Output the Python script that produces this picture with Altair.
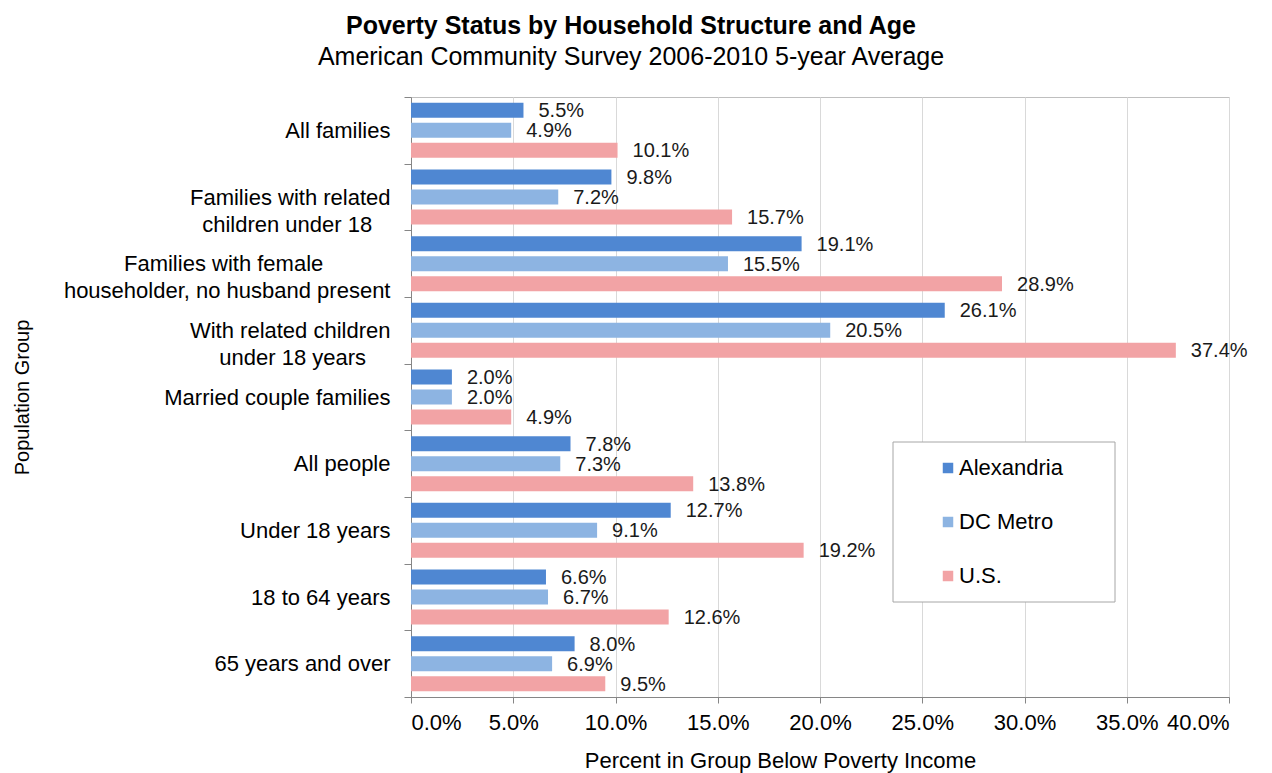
import altair as alt
import pandas as pd

NB = "\u00a0"
ZW = "\u200b"  # keeps the padding spaces from being trimmed
categories = [
    "All families",
    "Families with related|children under 18" + NB * 3 + ZW,
    "Families with female" + NB * 11 + ZW + "|householder, no husband present",
    "With related children|under 18 years" + NB * 4 + ZW,
    "Married couple families",
    "All people",
    "Under 18 years",
    "18 to 64 years",
    "65 years and over",
]

series_names = ["Alexandria", "DC Metro", "U.S."]
alexandria = [5.5, 9.8, 19.1, 26.1, 2.0, 7.8, 12.7, 6.6, 8.0]
dc_metro = [4.9, 7.2, 15.5, 20.5, 2.0, 7.3, 9.1, 6.7, 6.9]
us = [10.1, 15.7, 28.9, 37.4, 4.9, 13.8, 19.2, 12.6, 9.5]
colors = ["#4F87D2", "#8DB4E2", "#F2A3A5"]
x_ticks = [0, 5, 10, 15, 20, 25, 30, 35, 40]

rows = []
for s, vals in zip(series_names, [alexandria, dc_metro, us]):
    for c, v in zip(categories, vals):
        rows.append({"group": c, "series": s, "value": v})
df = pd.DataFrame(rows)

FONT = "Liberation Sans"
FS = 22
W, H = 818, 600

y_enc = alt.Y(
    "group:N",
    sort=categories,
    scale=alt.Scale(paddingInner=0, paddingOuter=0),
    title="Population Group",
    axis=alt.Axis(
        labelExpr="split(datum.label, '|')",
        labelAlign="right",
        labelBaseline="middle",
        labelFontSize=FS,
        labelLineHeight=27,
        labelPadding=14,
        labelLimit=500,
        labelColor="#000000",
        tickBand="extent",
        tickSize=7,
        tickColor="#868686",
        domainColor="#868686",
        grid=False,
        titleX=-389,
        titleY=H / 2,
        titleAngle=-90,
        titleAlign="center",
        titleBaseline="middle",
        titleFontSize=20,
        titleFontWeight="normal",
        titleColor="#000000",
    ),
)
yoff_enc = alt.YOffset(
    "series:N",
    sort=series_names,
    scale=alt.Scale(paddingInner=0.25, paddingOuter=0.29),
)
x_scale = alt.Scale(domain=[0, 40], nice=False)

bars = alt.Chart(df).mark_bar().encode(
    y=y_enc,
    yOffset=yoff_enc,
    x=alt.X(
        "value:Q",
        scale=x_scale,
        title="Percent in Group Below Poverty Income",
        axis=alt.Axis(
            values=x_ticks,
            labelExpr="format(datum.value, '.1f') + '%'",
            labelFontSize=FS,
            labelColor="#000000",
            labelPadding=9,
            tickSize=6,
            tickColor="#868686",
            domainColor="#868686",
            grid=True,
            gridColor="#D9D9D9",
            titleX=369,
            titleY=70,
            titleAlign="center",
            titleBaseline="alphabetic",
            titleFontSize=FS,
            titleFontWeight="normal",
            titleColor="#000000",
        ),
    ),
    color=alt.Color(
        "series:N",
        sort=series_names,
        scale=alt.Scale(domain=series_names, range=colors),
        legend=alt.Legend(
            title=None,
            orient="none",
            legendX=526,
            legendY=360,
            symbolType="square",
            symbolSize=110,
            symbolStrokeWidth=0,
            labelFontSize=FS,
            labelColor="#000000",
            labelOffset=0,
            rowPadding=32,
            padding=0,
        ),
    ),
)

labels = alt.Chart(df).transform_calculate(
    label="format(datum.value, '.1f') + '%'"
).mark_text(align="left", baseline="middle", dx=15, dy=1, fontSize=20, color="#1a1a1a").encode(
    y=y_enc,
    yOffset=yoff_enc,
    x=alt.X("value:Q", scale=x_scale),
    text="label:N",
)

box = alt.Chart(pd.DataFrame({"b": [0]})).mark_rect(
    fill="white", stroke="#A6A6A6", strokeWidth=1
).encode(
    x=alt.value(482), x2=alt.value(704), y=alt.value(345), y2=alt.value(505)
)

chart = alt.layer(bars, labels, box).properties(
    width=W,
    height=H,
    title=alt.TitleParams(
        text="Poverty Status by Household Structure and Age",
        subtitle="American Community Survey 2006-2010 5-year Average",
        fontSize=25,
        fontWeight="bold",
        subtitleFontSize=25,
        subtitleColor="#000000",
        subtitlePadding=6,
        color="#000000",
        anchor="middle",
        dx=-189,
        offset=16,
        font=FONT,
        subtitleFont=FONT,
    ),
    autosize=alt.AutoSizeParams(type="none"),
    padding={"left": 403, "top": 89, "right": 35, "bottom": 76},
).configure(font=FONT).configure_view(stroke="#BFBFBF").configure_axis(
    labelFont=FONT, titleFont=FONT
).configure_legend(labelFont=FONT)

chart.save("out.html", embed_options={"renderer": "svg", "actions": False})
